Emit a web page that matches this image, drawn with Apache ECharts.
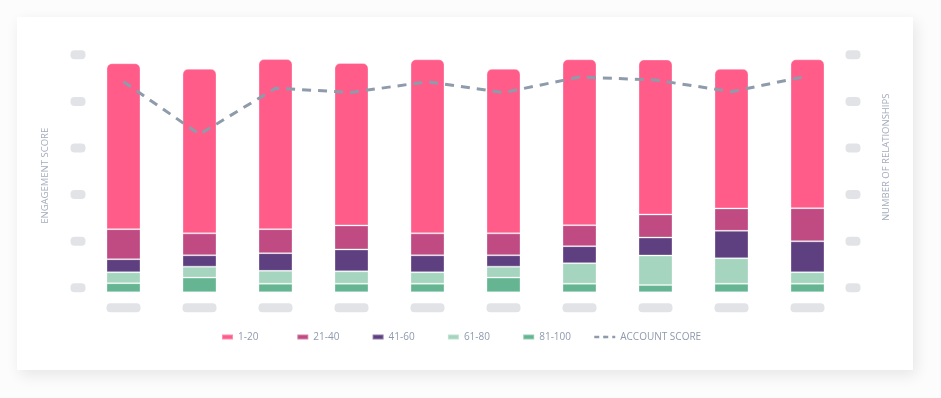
<!DOCTYPE html>
<html>
<head>
<meta charset="utf-8">
<script src="https://cdn.jsdelivr.net/npm/echarts@6/dist/echarts.min.js"></script>
<style>
	html, body { margin: 0; padding: 0; background: #fcfcfc; }
	#card {
		position: absolute; left: 17px; top: 17px; width: 896px; height: 353px;
		background: #fff; box-shadow: 3px 5px 14px rgba(0, 0, 0, 0.09);
	}
	#chart { position: absolute; left: 0; top: 0; width: 941px; height: 398px; }
</style>
</head>
<body>
<div id="card"></div>
<div id="chart"></div>
<script>
// categories have no visible labels in the picture (placeholder blocks)
var categories = ['1', '2', '3', '4', '5', '6', '7', '8', '9', '10'];

// stacked buckets, bottom to top
var s81to100 = [3.9, 6.3, 3.7, 3.7, 3.7, 6.3, 3.7, 3.1, 3.7, 3.7];
var s61to80 = [4.7, 4.7, 5.5, 5.3, 4.9, 4.7, 8.8, 12.7, 10.9, 4.9];
var s41to60 = [5.6, 4.9, 7.6, 9.4, 7.3, 4.9, 7.3, 7.7, 11.8, 13.3];
var s21to40 = [12.9, 9.4, 10.3, 10.3, 9.4, 9.4, 9.0, 9.9, 9.6, 14.2];
var s1to20 = [71.2, 70.6, 73.0, 69.7, 74.7, 70.6, 71.2, 66.5, 59.9, 63.9];

var accountScore = [90.4, 67.8, 87.6, 85.8, 90.4, 85.7, 92.4, 91.1, 86.1, 92.8];

var legendNames = ['1-20', '21-40', '41-60', '61-80', '81-100', 'ACCOUNT SCORE'];

var labelFont = 'Open Sans';
var textGrey = '#a3abbb';
var legendGrey = '#8f9aae';

var myChart = echarts.init(document.getElementById('chart'));

function barSeries(name, data, color, radius) {
	return {
		name: name,
		type: 'bar',
		stack: 'total',
		barWidth: 34,
		data: data,
		animation: false,
		itemStyle: {
			color: color,
			borderColor: 'rgba(255,255,255,0.3)',
			borderWidth: 1,
			borderRadius: radius || 0
		}
	};
}

// legend items sit on an even stride, so one legend per item
var legends = [];
for(var i = 0; i < legendNames.length; i++) {
	var isLine = i === legendNames.length - 1;
	legends.push({
		data: [legendNames[i]],
		left: isLine ? 588 : 216 + i * 75.3,
		top: 327,
		icon: isLine ? undefined : 'rect',
		itemWidth: isLine ? 21 : 11,
		itemHeight: isLine ? 3 : 5,
		lineStyle: { width: 2.5, type: [5, 4] },
		textStyle: { color: legendGrey, fontFamily: labelFont, fontSize: 10 }
	});
}

// label placeholders: grey rounded blocks instead of text
var yBlock = {
	formatter: function() { return '{p|}'; },
	margin: 0,
	verticalAlign: 'bottom',
	rich: { p: { width: 15, height: 9, backgroundColor: '#e1e3e7', borderRadius: 4 } }
};

option = {
	backgroundColor: 'transparent',
	grid: { left: 85.5, right: 95.5, top: 59.3, bottom: 105.7 },
	legend: legends,
	xAxis: {
		type: 'category',
		data: categories,
		axisLine: { show: false },
		axisTick: { show: false },
		axisLabel: {
			formatter: function() { return '{p|}'; },
			margin: 11,
			rich: { p: { width: 34, height: 9, backgroundColor: '#e1e3e7', borderRadius: 4 } }
		}
	},
	yAxis: [{
			type: 'value',
			min: 0,
			max: 100,
			interval: 20,
			name: 'ENGAGEMENT SCORE',
			nameLocation: 'middle',
			nameRotate: 90,
			nameGap: 35,
			nameTextStyle: { color: textGrey, fontFamily: labelFont, fontSize: 9.5 },
			splitLine: { show: false },
			axisLine: { show: false },
			axisTick: { show: false },
			axisLabel: yBlock
		},
		{
			type: 'value',
			min: 0,
			max: 100,
			interval: 20,
			position: 'right',
			name: 'NUMBER OF RELATIONSHIPS',
			nameLocation: 'middle',
			nameRotate: 90,
			nameGap: 36,
			nameTextStyle: { color: textGrey, fontFamily: labelFont, fontSize: 9.5, padding: [0, 0, 0, 37] },
			splitLine: { show: false },
			axisLine: { show: false },
			axisTick: { show: false },
			axisLabel: yBlock
		}
	],
	series: [
		barSeries('81-100', s81to100, '#66b592'),
		barSeries('61-80', s61to80, '#a5d5be'),
		barSeries('41-60', s41to60, '#5e4080'),
		barSeries('21-40', s21to40, '#c04a82'),
		barSeries('1-20', s1to20, '#ff5c8a', [5, 5, 0, 0]),
		{
			name: 'ACCOUNT SCORE',
			type: 'line',
			yAxisIndex: 1,
			data: accountScore,
			symbol: 'none',
			animation: false,
			z: 5,
			itemStyle: { color: '#8e9bab' },
			lineStyle: { color: '#8e9bab', width: 3, type: [9, 7] }
		}
	]
};
myChart.setOption(option);
</script>
</body>
</html>
